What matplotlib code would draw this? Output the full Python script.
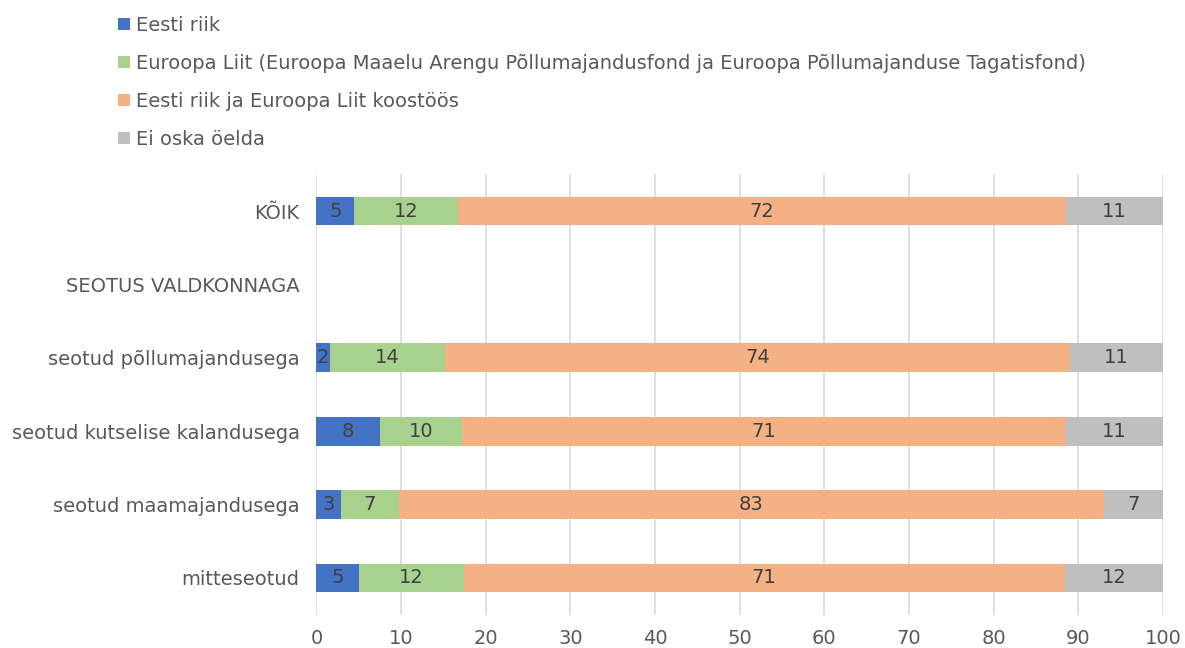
import numpy as np
import matplotlib.pyplot as plt

# categories top to bottom (second one is a group heading with no bar)
categories = ["KÕIK", "SEOTUS VALDKONNAGA", "seotud põllumajandusega",
              "seotud kutselise kalandusega", "seotud maamajandusega", "mitteseotud"]

series_names = ["Eesti riik",
                "Euroopa Liit (Euroopa Maaelu Arengu Põllumajandusfond ja Euroopa Põllumajanduse Tagatisfond)",
                "Eesti riik ja Euroopa Liit koostöös",
                "Ei oska öelda"]

# percentages (nan = no bar)
eesti_riik = [4.5, np.nan, 1.6, 7.5, 2.9, 5.0]
euroopa_liit = [12.2, np.nan, 13.6, 9.7, 6.8, 12.4]
koostoos = [71.9, np.nan, 73.8, 71.4, 83.3, 71.0]
ei_oska = [11.4, np.nan, 11.0, 11.4, 7.0, 11.6]

colors = ["#4472C4", "#A9D18E", "#F4B183", "#BFBFBF"]

plt.rcParams['font.family'] = ['DejaVu Sans']
plt.rcParams['font.size'] = 14

fig = plt.figure(figsize=(11.85, 6.48), dpi=100)
ax = fig.add_axes([0.267, 0.0514, 0.7144, 0.6796])

y = np.arange(len(categories))
left = np.zeros(len(categories))
for vals, name, col in zip([eesti_riik, euroopa_liit, koostoos, ei_oska], series_names, colors):
    vals = np.array(vals, dtype=float)
    w = np.nan_to_num(vals)
    ax.barh(y, w, left=left, height=0.39, color=col, label=name, zorder=2)
    # data labels in the middle of each segment
    for yi, (l, v) in enumerate(zip(left, vals)):
        if not np.isnan(v):
            ax.text(l + v / 2, yi, f"{np.floor(v + 0.5):.0f}", ha="center", va="center",
                    color="#404040", fontsize=14, zorder=3)
    left = left + w

ax.set_xlim(0, 100)
ax.set_ylim(len(categories) - 0.5, -0.5)
ax.set_xticks(np.arange(0, 101, 10))
ax.set_yticks(y)
ax.set_yticklabels(categories)
ax.tick_params(axis="both", length=0, colors="#595959", labelsize=14)
ax.tick_params(axis="x", pad=10)
ax.tick_params(axis="y", pad=12)
ax.grid(axis="x", color="#d9d9d9", linewidth=1.2, zorder=0)
for s in ax.spines.values():
    s.set_visible(False)

leg = fig.legend(loc="upper left", bbox_to_anchor=(0.085, 1.003), frameon=False,
                 handlelength=0.6, handleheight=0.6, handletextpad=0.3,
                 labelspacing=0.98, fontsize=14)
for t in leg.get_texts():
    t.set_color("#595959")

fig.savefig("out.png", dpi=100)
